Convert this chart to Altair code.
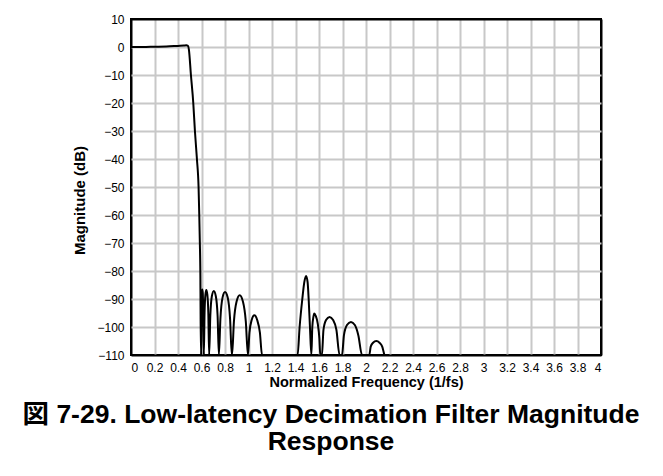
import altair as alt
import pandas as pd

# Magnitude response (frequency in 1/fs, magnitude in dB)
main_x = [0, 0.1, 0.2, 0.3, 0.4, 0.45, 0.47, 0.485, 0.493, 0.510, 0.530, 0.544, 0.561, 0.575, 0.581, 0.586, 0.590, 0.595]
main_y = [0, 0, 0.1, 0.2, 0.4, 0.5, 0.6, 0.4, -1, -10, -20, -30, -40, -50, -60, -70, -80, -110]

lobe1_x = [0.597, 0.600, 0.604, 0.607, 0.611, 0.615, 0.620]
lobe1_y = [-110, -95, -88, -86.6, -88, -95, -110]
lobe2_x = [0.620, 0.626, 0.633, 0.641, 0.650, 0.658, 0.665]
lobe2_y = [-110, -95, -88.5, -86.8, -88.5, -95, -110]
lobe3_x = [0.665, 0.675, 0.688, 0.705, 0.722, 0.737, 0.748]
lobe3_y = [-110, -96, -89, -87.1, -89, -96, -110]
lobe4_x = [0.748, 0.761, 0.779, 0.800, 0.823, 0.843, 0.858]
lobe4_y = [-110, -97, -89.5, -87.5, -89.5, -97, -110]
lobe5_x = [0.860, 0.876, 0.898, 0.925, 0.953, 0.977, 0.995]
lobe5_y = [-110, -98, -91, -88.7, -91, -98, -110]
lobe6_x = [0.995, 1.008, 1.027, 1.050, 1.074, 1.097, 1.115]
lobe6_y = [-110, -102, -97.5, -95.8, -97.5, -102, -110]

lobeA_x = [1.418, 1.435, 1.458, 1.475, 1.490, 1.503, 1.512, 1.523, 1.535]
lobeA_y = [-110, -100, -90, -84, -81.8, -84, -90, -100, -110]
lobeB_x = [1.535, 1.543, 1.552, 1.560, 1.572, 1.590, 1.603, 1.611]
lobeB_y = [-110, -100, -96.5, -95.2, -96, -99, -104, -110]
lobeC_x = [1.625, 1.638, 1.660, 1.690, 1.720, 1.748, 1.775]
lobeC_y = [-110, -101, -97.5, -96.4, -97.5, -101, -110]
lobeD_x = [1.796, 1.812, 1.838, 1.872, 1.905, 1.935, 1.966]
lobeD_y = [-110, -103, -99.3, -98.2, -99.3, -103, -110]
lobeE_x = [2.028, 2.040, 2.060, 2.088, 2.115, 2.138, 2.156]
lobeE_y = [-110, -107, -105.6, -105, -105.6, -107, -110]

x_ticks = [0, 0.2, 0.4, 0.6, 0.8, 1, 1.2, 1.4, 1.6, 1.8, 2, 2.2, 2.4, 2.6, 2.8, 3, 3.2, 3.4, 3.6, 3.8, 4]
y_ticks = [10, 0, -10, -20, -30, -40, -50, -60, -70, -80, -90, -100, -110]

xs = (main_x + lobe1_x + lobe2_x + lobe3_x + lobe4_x + lobe5_x + lobe6_x
      + lobeA_x + lobeB_x + lobeC_x + lobeD_x + lobeE_x)
ys = (main_y + lobe1_y + lobe2_y + lobe3_y + lobe4_y + lobe5_y + lobe6_y
      + lobeA_y + lobeB_y + lobeC_y + lobeD_y + lobeE_y)
df = pd.DataFrame({"f": xs, "m": ys, "order": list(range(len(xs)))})

FONT = "Liberation Sans, Arial, Noto Sans CJK JP"

chart = alt.Chart(df).mark_line(
    color="black", strokeWidth=2, clip=True, interpolate="monotone"
).encode(
    x=alt.X("f:Q", scale=alt.Scale(domain=[0, 4], nice=False, zero=False),
            axis=alt.Axis(values=x_ticks, format=".1~f", title="Normalized Frequency (1/fs)",
                          ticks=False, domain=False, labelPadding=7, titlePadding=2,
                          titleFontSize=14.5,
                          gridColor={"condition": {"test": "datum.value <= 0 || datum.value >= 4", "value": "black"}, "value": "#c8c8c8"},
                          gridWidth=2)),
    y=alt.Y("m:Q", scale=alt.Scale(domain=[-110, 10], nice=False, zero=False),
            axis=alt.Axis(values=y_ticks, title="Magnitude (dB)", ticks=False, domain=False,
                          labelPadding=7, titlePadding=9, titleY=181,
                          gridColor={"condition": {"test": "datum.value <= -110 || datum.value >= 10", "value": "black"}, "value": "#c8c8c8"},
                          gridWidth=2)),
    order="order:Q",
).properties(
    width=470,
    height=336,
    autosize=alt.AutoSizeParams(type="none"),
    padding={"left": 123, "top": 11, "right": 54, "bottom": 113},
    title=alt.TitleParams(
        text=["図 7-29. Low-latency Decimation Filter Magnitude", "Response"],
        orient="bottom", anchor="middle", frame="group", dx=-35, offset=13,
        fontSize=26.5, fontWeight="bold", font=FONT, color="black", lineHeight=27,
    ),
).configure_view(
    stroke="black", strokeWidth=2
).configure_axis(
    labelFont=FONT, titleFont=FONT, labelFontSize=12, titleFontSize=15,
    labelColor="black", titleColor="black", titleFontWeight="bold",
)

chart.save("out.html", embed_options={"renderer": "svg", "actions": False})
